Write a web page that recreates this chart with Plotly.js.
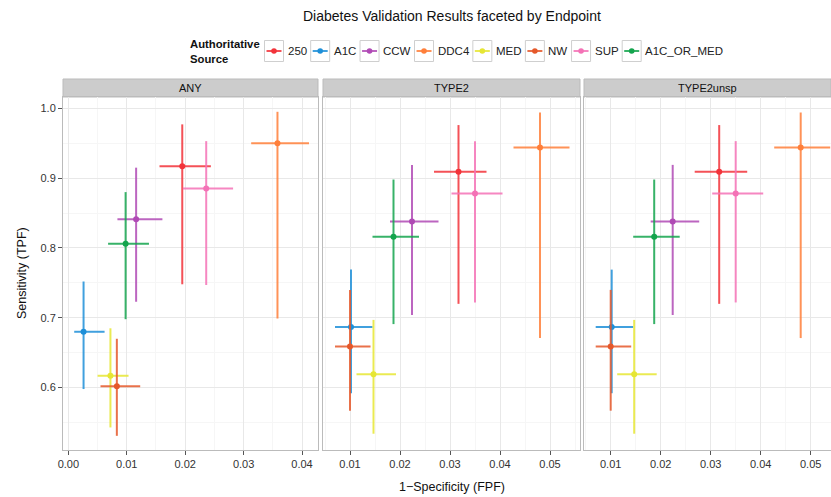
<!DOCTYPE html>
<html><head><meta charset="utf-8">
<script src="https://cdn.plot.ly/plotly-3.0.1.min.js"></script>
<style>body{margin:0;padding:0;background:#fff}#chart{width:831px;height:497px}</style>
</head><body><div id="chart"></div>
<script>
const categories = ['250','A1C','CCW','DDC4','MED','NW','SUP','A1C_OR_MED'];
const colors = ['#F2333A','#1E8FD8','#B04AB5','#FF7F3A','#E6E634','#E5582A','#F472B6','#14A44D'];
const panels = ['ANY','TYPE2','TYPE2unsp'];

// ANY
const anyFPF      = [0.0195,0.0026,0.0116,0.0358,0.0072,0.0083,0.0236,0.0098];
const anyFPFLow   = [0.0156,0.0010,0.0084,0.0313,0.0050,0.0055,0.0196,0.0068];
const anyFPFHigh  = [0.0244,0.0062,0.0161,0.0412,0.0103,0.0123,0.0282,0.0138];
const anyTPF      = [0.917,0.680,0.841,0.950,0.617,0.602,0.885,0.806];
const anyTPFLow   = [0.748,0.598,0.723,0.699,0.543,0.531,0.747,0.698];
const anyTPFHigh  = [0.977,0.752,0.915,0.995,0.685,0.670,0.953,0.880];
// TYPE2
const t2FPF       = [0.0317,0.0102,0.0224,0.0480,0.0147,0.0100,0.0350,0.0187];
const t2FPFLow    = [0.0268,0.0070,0.0180,0.0427,0.0113,0.0070,0.0303,0.0145];
const t2FPFHigh   = [0.0373,0.0145,0.0277,0.0539,0.0192,0.0141,0.0405,0.0238];
const t2TPF       = [0.909,0.687,0.838,0.944,0.619,0.659,0.878,0.816];
const t2TPFLow    = [0.720,0.592,0.704,0.671,0.534,0.567,0.722,0.691];
const t2TPFHigh   = [0.976,0.769,0.919,0.994,0.697,0.740,0.953,0.898];
// TYPE2unsp
const t2uFPF      = [0.0317,0.0102,0.0224,0.0480,0.0147,0.0100,0.0350,0.0187];
const t2uFPFLow   = [0.0268,0.0070,0.0180,0.0427,0.0113,0.0070,0.0303,0.0145];
const t2uFPFHigh  = [0.0373,0.0145,0.0277,0.0539,0.0192,0.0141,0.0405,0.0238];
const t2uTPF      = [0.909,0.687,0.838,0.944,0.619,0.659,0.878,0.816];
const t2uTPFLow   = [0.720,0.592,0.704,0.671,0.534,0.567,0.722,0.691];
const t2uTPFHigh  = [0.976,0.769,0.919,0.994,0.697,0.740,0.953,0.898];

const panelData = [
  [anyFPF, anyFPFLow, anyFPFHigh, anyTPF, anyTPFLow, anyTPFHigh],
  [t2FPF, t2FPFLow, t2FPFHigh, t2TPF, t2TPFLow, t2TPFHigh],
  [t2uFPF, t2uFPFLow, t2uFPFHigh, t2uTPF, t2uTPFLow, t2uTPFHigh]
];

function rgba(hex, a){
  const n = parseInt(hex.slice(1),16);
  return 'rgba('+((n>>16)&255)+','+((n>>8)&255)+','+(n&255)+','+a+')';
}

const W = 831, H = 497;
const px = v => v / W;
const py = v => 1 - v / H;
const xDomains = [[px(63),px(318)],[px(323),px(580)],[px(584),1]];
const xRanges = [[-0.00092,0.04274],[0.0046,0.056],[0.00466,0.05406]];
const yDomain = [py(450), py(97)];
const yRange = [0.5107, 1.0162];

const traces = [];
panelData.forEach((d, p) => {
  const [fx, fl, fh, ty, tl, th] = d;
  categories.forEach((c, i) => {
    traces.push({
      type: 'scatter', mode: 'markers',
      x: [fx[i]], y: [ty[i]],
      name: c, legendgroup: c, showlegend: false,
      xaxis: p === 0 ? 'x' : 'x' + (p + 1), yaxis: p === 0 ? 'y' : 'y' + (p + 1),
      marker: {color: colors[i], size: 6},
      error_x: {type:'data', symmetric:false, array:[fh[i]-fx[i]], arrayminus:[fx[i]-fl[i]], width:0, thickness:2, color: rgba(colors[i],0.85)},
      error_y: {type:'data', symmetric:false, array:[th[i]-ty[i]], arrayminus:[ty[i]-tl[i]], width:0, thickness:2, color: rgba(colors[i],0.85)},
      hoverinfo: 'x+y+name'
    });
  });
});

const FONT = 'Liberation Sans, Arial, sans-serif';
const gridCol = '#E8E8E8', minorCol = '#F6F6F6';
const layout = {
  width: W, height: H,
  margin: {l:0, r:0, t:0, b:0},
  paper_bgcolor: '#fff', plot_bgcolor: '#fff',
  font: {family: FONT, color: '#222', size: 11},
  showlegend: false,
  annotations: [
    {text: 'Diabetes Validation Results faceted by Endpoint', xref:'paper', yref:'paper', x: px(452), y: py(16), xanchor:'center', yanchor:'middle', showarrow:false, font:{size:14, color:'#111'}},
    {text: '1\u2212Specificity (FPF)', xref:'paper', yref:'paper', x: px(452), y: py(487), xanchor:'center', yanchor:'middle', showarrow:false, font:{size:12.5, color:'#111'}},
    {text: 'Sensitivity (TPF)', xref:'paper', yref:'paper', x: px(22), y: py(273), xanchor:'center', yanchor:'middle', textangle:-90, showarrow:false, font:{size:12.5, color:'#111'}}
  ],
  shapes: []
};

panels.forEach((name, p) => {
  const xk = p === 0 ? 'xaxis' : 'xaxis' + (p + 1);
  const yk = p === 0 ? 'yaxis' : 'yaxis' + (p + 1);
  const yid = p === 0 ? 'y' : 'y' + (p + 1);
  const xid = p === 0 ? 'x' : 'x' + (p + 1);
  layout[xk] = {
    domain: xDomains[p], range: xRanges[p], anchor: yid,
    tickmode: 'linear', tick0: 0, dtick: 0.01, tickformat: '.2f',
    ticks: 'outside', ticklen: 4, tickcolor: '#555', tickwidth: 1,
    showgrid: true, gridcolor: gridCol, gridwidth: 1,
    minor: {dtick: 0.005, tick0: 0, showgrid: true, gridcolor: minorCol, ticks: ''},
    zeroline: false, showline: true, linecolor: '#BBBBBB', linewidth: 1, mirror: true,
    tickfont: {size: 11, color: '#333'}, fixedrange: true
  };
  layout[yk] = {
    domain: yDomain, range: yRange, anchor: xid,
    tickmode: 'linear', tick0: 0, dtick: 0.1, tickformat: '.1f',
    ticks: p === 0 ? 'outside' : '', ticklen: 4, tickcolor: '#555',
    showticklabels: p === 0,
    showgrid: true, gridcolor: gridCol, gridwidth: 1,
    minor: {dtick: 0.05, tick0: 0, showgrid: true, gridcolor: minorCol, ticks: ''},
    zeroline: false, showline: true, linecolor: '#BBBBBB', linewidth: 1, mirror: true,
    tickfont: {size: 11, color: '#333'}, fixedrange: true
  };
  layout.shapes.push({type:'rect', xref:'paper', yref:'paper', x0: xDomains[p][0], x1: xDomains[p][1], y0: py(97), y1: py(79), fillcolor:'#CCCCCC', line:{color:'#BBBBBB', width:1}, layer:'below'});
  layout.annotations.push({text: name, xref:'paper', yref:'paper', x: (xDomains[p][0]+xDomains[p][1])/2, y: py(88), xanchor:'center', yanchor:'middle', showarrow:false, font:{size:11, color:'#111'}});
});

// ggplot-style legend: keys in boxes, built from categories and colors
(function buildLegend(){
  const cv = document.createElement('canvas').getContext('2d');
  const LF = 11.5;
  cv.font = LF + 'px "Liberation Sans"';
  const cy = 51, boxW = 19, boxH = 21;
  layout.annotations.push({text:'<b>Authoritative<br>Source</b>', xref:'paper', yref:'paper', x: px(188), y: py(cy), xanchor:'left', yanchor:'middle', align:'left', showarrow:false, font:{size:11.3, color:'#111'}});
  let x = 264.5;
  categories.forEach((c, i) => {
    layout.shapes.push({type:'rect', xref:'paper', yref:'paper', x0: px(x), x1: px(x+boxW), y0: py(cy+boxH/2), y1: py(cy-boxH/2), fillcolor:'#FFFFFF', line:{color:'#CFCFCF', width:1}});
    layout.shapes.push({type:'line', xref:'paper', yref:'paper', x0: px(x+2), x1: px(x+boxW-2), y0: py(cy), y1: py(cy), line:{color: rgba(colors[i],0.85), width:2}});
    layout.shapes.push({type:'circle', xref:'paper', yref:'paper', x0: px(x+boxW/2-2.8), x1: px(x+boxW/2+2.8), y0: py(cy+2.8), y1: py(cy-2.8), fillcolor: colors[i], line:{width:0}});
    const tw = cv.measureText(c).width;
    layout.annotations.push({text: c, xref:'paper', yref:'paper', x: px(x+boxW+3), y: py(cy), xanchor:'left', yanchor:'middle', showarrow:false, font:{size:LF, color:'#222'}, xshift:-1});
    x += boxW + 3.5 + tw + 4.5;
  });
})();

Plotly.newPlot('chart', traces, layout, {displayModeBar: false, staticPlot: true});
</script>
</body></html>
